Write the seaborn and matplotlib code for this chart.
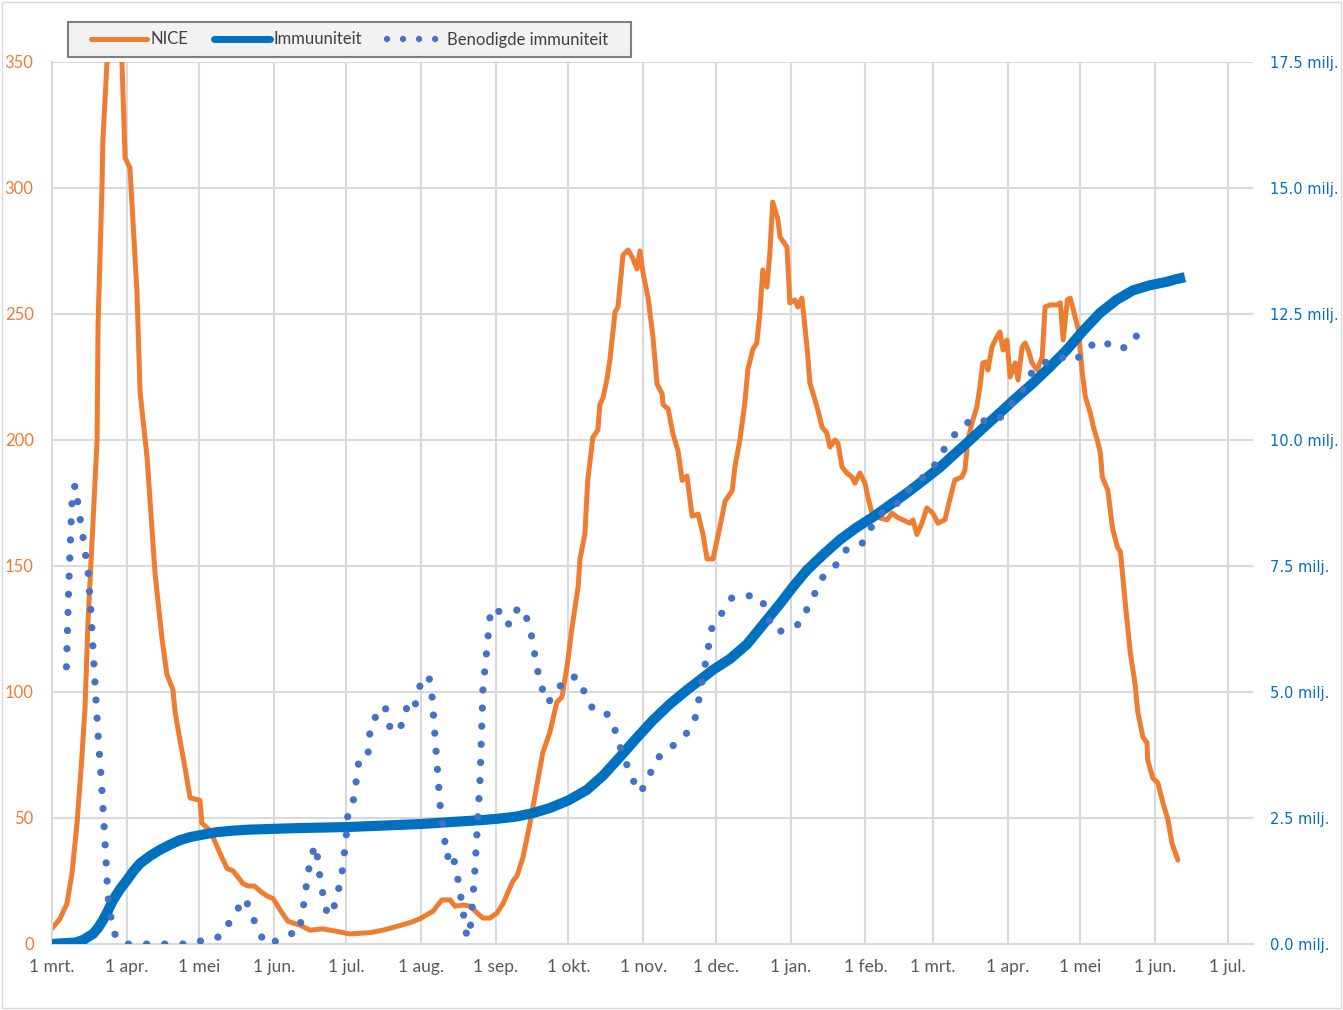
import numpy as np
import pandas as pd
import matplotlib
matplotlib.use("Agg")
import matplotlib.pyplot as plt
import seaborn as sns
from matplotlib.patches import Rectangle
from matplotlib.lines import Line2D

sns.set_theme(style="white")
plt.rcParams['font.family'] = ['Lato', 'DejaVu Sans']

START = pd.Timestamp("2020-03-01")

# ---------------- data (x = days since 1 March 2020) ----------------
nice_day = [0, 3.4, 6.3, 8.4, 10.5, 12.5, 13.8, 15, 16.7, 18.8, 19.2, 20.8, 21.2, 22.9, 26,
            29.1, 30.4, 32.4, 35.3, 36.6, 39.5, 42.8, 45.7, 47.7, 50.2, 51.1, 53.1, 55.2, 57.3,
            61.4, 62.2, 65.6, 69.7, 72.6, 75.1, 79.2, 81.3, 84, 86.3, 89.2, 91.7, 94.6, 97.8,
            102.8, 107, 112.3, 118.1, 123.5, 131.8, 137.2, 143, 148.4, 152.5, 157.9, 161.6,
            165, 167, 170.3, 173.3, 176.2, 178.6, 181.5, 184.4, 186.9, 191, 192.7, 195.2,
            198.1, 200, 203.4, 206.3, 209.2, 211.3, 213.4, 215.4, 218, 218.8, 220.8, 222,
            224.1, 226.2, 227, 228.3, 229.9, 231.2, 233.3, 234.5, 236.6, 238.7, 240.8, 242.4,
            243.6, 244.9, 247, 249, 250.7, 252.8, 253.2, 255.3, 257.3, 259.4, 261.1, 263.1,
            265.2, 267.7, 269.7, 271.4, 273.9, 276.8, 278.9, 281.8, 283, 285, 287.1, 288.3,
            290.4, 292, 293.3, 294.5, 296.2, 297.4, 298.6, 300.8, 301.6, 304.5, 305.7, 307.8,
            309, 310.7, 312.8, 314, 316.1, 317.3, 319, 321, 322.3, 324.4, 325.6, 327.3, 329.3,
            331.4, 332.6, 334.7, 336.8, 338, 339.7, 341.7, 345.9, 348, 350, 352.5, 355.4,
            356.7, 358.3, 360.4, 362.4, 364.9, 367, 369.9, 371.9, 374, 376.9, 378.2, 379.4,
            381.1, 383.1, 384.4, 385.6, 387.3, 387.7, 389.4, 391.4, 392.7, 394, 395.6, 396.9,
            399, 400.2, 401.9, 403.1, 404.4, 406, 408.1, 410.2, 411.4, 413.5, 416.4, 417.7,
            418.9, 420.6, 421.8, 423.1, 425.2, 426.8, 428.1, 430.1, 431.4, 433, 434.3, 435.1,
            437.4, 439.3, 441.4, 442.6, 444.6, 446.7, 448.6, 449.8, 451.9, 453.6, 453.9, 456,
            458.1, 460.2, 462.3, 463.9, 466.4]
nice_val = [6, 10, 16, 28, 48, 74, 94, 127, 160, 200, 246, 299, 319, 350, 425,
            350, 312, 308, 259, 219, 193, 147, 121, 107, 101, 92, 81, 70, 58,
            57, 48, 45, 36, 30, 29, 24, 23, 23, 21, 19, 18, 13.5, 9,
            7.5, 5.5, 6, 5, 4, 4.5, 5.5, 7, 8.5, 10, 13, 17.5,
            17.5, 15, 15.5, 15, 12.3, 10.3, 10.3, 12.3, 16, 25, 27, 34.5,
            48, 58, 76, 84, 96, 98, 110, 125, 141.7, 152.8, 162.7, 184,
            201, 204, 214, 216.7, 223.8, 232, 250.8, 252.8, 273.4, 275.4, 271.8, 267.9,
            275, 266.3, 256.3, 240.9, 222.2, 218.3, 214, 212.3, 202.4, 195.6, 184, 185.7,
            169.8, 170.6, 162.7, 152.8, 152.8, 165.9, 175.8, 179.8, 189.7, 200, 215, 228,
            236, 238.5, 250.4, 267.5, 260.7, 274, 294.4, 287.3, 280.6, 276.6, 254.4, 255.6,
            252.8, 256.3, 236.9, 222.6, 215.9, 211.9, 205.2, 202.8, 197.2, 200, 198.8, 189.3, 186.9,
            185.3, 182.9, 186.9, 182.9, 177.4, 171, 169.4, 168.3, 171, 169.4, 168.3, 167,
            168.3, 162.5, 167, 173, 171, 167, 168.3, 176.2, 184.1, 185.3, 188, 200,
            206.7, 213, 221, 230.6, 231, 227.8, 236.9, 240.9, 242.9, 235.7, 239.7, 225,
            230.6, 223.8, 236.9, 238.5, 235.7, 230.6, 227.8, 233, 252.8, 253.6, 253.6, 254.4,
            239.7, 255.6, 256.3, 251.6, 243.7, 226.6, 217, 210.7, 205.2, 200, 194.8, 185.3,
            180, 165, 157.3, 155.7, 135.3, 115.5, 103.6, 92, 82.1, 79.8, 73, 65.9,
            63.9, 56, 49.2, 40.1, 33.3]

immuun_day = [0, 10, 13, 17.1, 19.2, 21.2, 23.3, 25.4, 28.2, 31.2, 33.9, 36.6, 40.8, 44.9,
              49, 53.1, 57.2, 61.4, 68.4, 75.3, 82.2, 102, 122.3, 137.4, 152.5, 165.5, 178.6,
              185.6, 192.7, 199.5, 206.4, 214, 221.7, 228.5, 235.3, 242.1, 249, 256, 263.1,
              268.5, 273.9, 281, 288, 294.8, 301.6, 307.2, 312.8, 319.6, 326.4, 333.2, 340.1,
              347.1, 354.2, 361, 367.9, 373.4, 379, 385.8, 392.7, 399.5, 406.4, 413.4, 420.4,
              427.2, 434.1, 441, 447.8, 454.8, 461.9, 465.6, 469.3]
immuun_milj = [0, 0.03, 0.08, 0.2, 0.32, 0.47, 0.66, 0.87, 1.08, 1.27, 1.45, 1.6, 1.75, 1.87,
               1.97, 2.06, 2.12, 2.16, 2.22, 2.25, 2.27, 2.3, 2.32, 2.35, 2.38, 2.42, 2.46,
               2.49, 2.53, 2.6, 2.7, 2.85, 3.06, 3.35, 3.71, 4.08, 4.44, 4.76, 5.04,
               5.24, 5.44, 5.66, 5.95, 6.35, 6.75, 7.1, 7.42, 7.73, 8.02, 8.26, 8.47,
               8.71, 8.95, 9.2, 9.46, 9.7, 9.94, 10.24, 10.54, 10.84, 11.13, 11.45, 11.79,
               12.17, 12.52, 12.78, 12.97, 13.07, 13.14, 13.19, 13.23]

nodig_day = [6.1, 7.0, 8.2, 8.8, 10.1, 10.8, 13.0, 15.1, 16.2, 17.9, 19.2, 20.8, 22.1, 23.3,
             25.4, 29.5, 58.5, 64.8, 69.7, 73.5, 76.7, 80.0, 82.2, 85, 88.5, 94.5, 99.9, 102.5,
             103.6, 104.9, 105.7, 107, 109, 110.3, 111.1, 112.4, 114, 116.6, 117.4, 119.8,
             120.6, 121.5, 122.3, 122.7, 124.8, 126, 126.4, 129, 131, 131.4, 133, 136.4, 138.1,
             139.3, 141.4, 145.5, 147.1, 149.6, 151.7, 153.3, 156.3, 157.5, 160.8, 163.7,
             165.8, 168.7, 172, 173.7, 175.3, 177.4, 178.6, 181.5, 184.4, 187.3, 190.6, 193.1,
             196.4, 198.5, 201, 202.7, 205.5, 208.8, 213, 217.5, 220.8, 224.1, 229.5, 232.9,
             234.9, 240.3, 243.6, 247, 249.4, 253.6, 258.5, 263.5, 266.8, 268.1, 273.4, 277.6,
             281.7, 287.9, 294.1, 296.4, 299.9, 304.5, 310.3, 313.2, 316.5, 319.8, 325.2,
             329.3, 335.5, 338.9, 343, 348.8, 353.4, 358.3, 364.1, 367.4, 371.6, 376.1, 382.3,
             388.6, 394, 398.1, 402.7, 406, 411, 417.3, 423.9, 429.3, 435.1, 440.9, 446.7,
             450.5, 455.4]
nodig_milj = [5.5, 7.0, 8.6, 9.05, 9.1, 8.75, 8.06, 7.36, 6.63, 5.2, 4.15, 3.06, 2.0, 0.93,
              0.24, 0.0, 0.0, 0.12, 0.14, 0.42, 0.67, 0.91, 0.67, 0.32, 0.0, 0.08, 0.22, 0.22,
              0.58, 0.93, 1.27, 1.63, 1.96, 1.67, 1.31, 0.97, 0.62, 0.58, 0.93, 1.21,
              1.57, 1.92, 2.3, 2.62, 2.82, 3.17, 3.51, 3.75, 3.75, 4.1, 4.46, 4.58, 4.72,
              4.38, 4.19, 4.37, 4.7, 4.6, 4.94, 5.3, 5.28, 4.92, 2.78, 1.71,
              1.85, 1.17, 0.12, 0.42, 1.51, 3.27, 5.06, 6.49, 6.69, 6.35, 6.35, 6.69,
              6.51, 6.17, 5.48, 5.12, 4.78, 5.0, 5.28, 5.3, 4.98, 4.66, 4.6, 4.31,
              3.97, 3.29, 3.0, 3.25, 3.59, 3.83, 3.97, 4.21, 4.52, 4.88, 6.27, 6.57,
              6.87, 6.92, 6.85, 6.49, 6.19, 6.23, 6.37, 6.69, 7.0, 7.32, 7.54,
              7.84, 7.94, 8.23, 8.53, 8.67, 8.93, 9.17, 9.37, 9.66, 9.96, 10.24, 10.44,
              10.34, 10.48, 10.75, 11.03, 11.35, 11.53, 11.65, 11.57, 11.85, 11.98, 11.79, 11.87,
              12.16, 12.2]

month_starts = ["2020-03-01", "2020-04-01", "2020-05-01", "2020-06-01", "2020-07-01",
                "2020-08-01", "2020-09-01", "2020-10-01", "2020-11-01", "2020-12-01",
                "2021-01-01", "2021-02-01", "2021-03-01", "2021-04-01", "2021-05-01",
                "2021-06-01", "2021-07-01"]
month_labels = ["1 mrt.", "1 apr.", "1 mei", "1 jun.", "1 jul.", "1 aug.", "1 sep.", "1 okt.",
                "1 nov.", "1 dec.", "1 jan.", "1 feb.", "1 mrt.", "1 apr.", "1 mei", "1 jun.",
                "1 jul."]
left_ticks = [0, 50, 100, 150, 200, 250, 300, 350]
right_ticks = [0.0, 2.5, 5.0, 7.5, 10.0, 12.5, 15.0, 17.5]

series_names = ["NICE", "Immuuniteit", "Benodigde immuniteit"]

# ---------------- styling ----------------
ORANGE = "#ED7D31"
BLUE = "#0070C0"
DOTBLUE = "#4472C4"
GRID = "#D9D9D9"

def to_dates(days):
    return START + pd.to_timedelta(np.asarray(days, dtype=float), unit="D")

nice_df = pd.DataFrame({"datum": to_dates(nice_day), "waarde": nice_val})
imm_df = pd.DataFrame({"datum": to_dates(immuun_day), "waarde": immuun_milj})
nod_df = pd.DataFrame({"datum": to_dates(nodig_day), "waarde": nodig_milj})

W, H = 1343, 1010
fig = plt.figure(figsize=(W / 100, H / 100), dpi=100)
left_px, right_px, top_px, bot_px = 51.7, 1253, 62, 944
ax = fig.add_axes([left_px / W, 1 - bot_px / H, (right_px - left_px) / W, (bot_px - top_px) / H])
ax2 = ax.twinx()

DOT_LS = (0, (0.01, 2.5))

sns.lineplot(data=nice_df, x="datum", y="waarde", ax=ax, color=ORANGE, linewidth=3.6,
             estimator=None, sort=False, legend=False, solid_joinstyle="round")
sns.lineplot(data=imm_df, x="datum", y="waarde", ax=ax2, color=BLUE, linewidth=7.3,
             estimator=None, sort=False, legend=False, solid_capstyle="butt",
             solid_joinstyle="round")
sns.lineplot(data=nod_df, x="datum", y="waarde", ax=ax2, color=DOTBLUE, linewidth=5.2,
             estimator=None, sort=False, legend=False,
             linestyle=DOT_LS, dash_capstyle="round")

ax.set_xlim(START, START + pd.Timedelta(days=497.5))
ax.set_ylim(0, 350)
ax2.set_ylim(0, 17.5)

ax.set_xticks(pd.to_datetime(month_starts))
ax.set_xticklabels(month_labels)
ax.set_yticks(left_ticks)
ax.set_yticklabels([str(v) for v in left_ticks])
ax2.set_yticks(right_ticks)
ax2.set_yticklabels([f"{v:.1f} milj." for v in right_ticks])

ax.grid(True, color=GRID, linewidth=1.5)
ax.set_axisbelow(True)
ax2.grid(False)
ax.set_xlabel("")
ax.set_ylabel("")
ax2.set_xlabel("")
ax2.set_ylabel("")

for s in ["top", "right"]:
    ax.spines[s].set_visible(False)
ax.spines["left"].set_color(GRID)
ax.spines["left"].set_linewidth(1.5)
ax.spines["bottom"].set_color(GRID)
ax.spines["bottom"].set_linewidth(1.5)
for s in ax2.spines.values():
    s.set_visible(False)

ax.tick_params(axis="x", length=0, pad=11, labelsize=12.5, labelcolor="#595959")
ax.tick_params(axis="y", length=0, pad=13, labelsize=12, labelcolor=ORANGE)
ax2.tick_params(axis="y", length=0, pad=12, labelsize=10.5, labelcolor=BLUE)
for lbl in ax2.get_yticklabels():
    lbl.set_fontfamily(["DejaVu Sans"])

# legend box (Excel-style) drawn as a figure patch, legend content on top
fig.patches.append(Rectangle((68 / W, 1 - 57 / H), (631 - 68) / W, 35 / H,
                             transform=fig.transFigure, facecolor="#F2F2F2",
                             edgecolor="#7F7F7F", linewidth=1.5, zorder=1))
handles = [
    Line2D([0], [0], color=ORANGE, linewidth=3.6, solid_capstyle="round"),
    Line2D([0], [0], color=BLUE, linewidth=5.0, solid_capstyle="round"),
    Line2D([0], [0], color=DOTBLUE, linewidth=4.6, linestyle=DOT_LS,
           dash_capstyle="round"),
]
leg = fig.legend(handles, series_names, loc="center", bbox_to_anchor=(349.5 / W, 1 - 39.5 / H),
                 ncol=3, frameon=False, fontsize=12, handlelength=3.4,
                 handletextpad=0.2, columnspacing=1.5, borderpad=0.3)
for t in leg.get_texts():
    t.set_color("#404040")

fig.patches.append(Rectangle((0.0015, 0.002), 0.997, 0.996, transform=fig.transFigure,
                             fill=False, edgecolor=GRID, linewidth=1.0))

fig.savefig("out.png", dpi=100, facecolor="white")
